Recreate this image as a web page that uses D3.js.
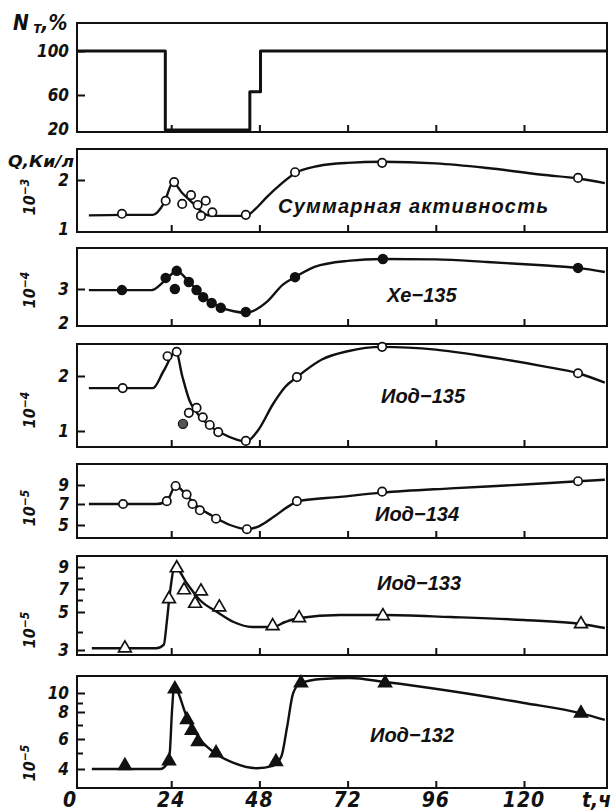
<!DOCTYPE html>
<html>
<head>
<meta charset="utf-8">
<script src="https://cdn.jsdelivr.net/npm/d3@7"></script>
<style>
  body { margin: 0; background: #fff; }
  svg text { font-family: "Liberation Sans Narrow", "DejaVu Sans Condensed", sans-serif; font-style: italic; font-weight: bold; fill: #111; }
  svg .title { font-family: "Liberation Sans", "DejaVu Sans", sans-serif; }
</style>
</head>
<body>
<svg id="vis-svg" width="612" height="812"></svg>
<script>
// time axis, hours
const hourTicks = [24, 48, 72, 96, 120]
const hourLabels = [0, 24, 48, 72, 96, 120]

// reactor power N_T, %
const powerT = [-1.5, 22.4, 45.4, 48.3, 142.5]
const powerN = [100, 20, 63, 100, 100]

// total activity, 10^-3 Ki/l (open circles)
const sumPtsT = [10.6, 22.5, 24.8, 27, 29.4, 31.2, 32.1, 33.4, 35.2, 44.3, 57.7, 81.4, 134.7]
const sumPtsV = [1.35, 1.60, 1.96, 1.54, 1.71, 1.52, 1.31, 1.60, 1.38, 1.33, 2.15, 2.33, 2.04]
const sumFitT = [1.6, 10.6, 19, 22, 24.5, 27, 30, 33, 35, 44.3, 47, 50, 54, 57.7, 64, 72, 81.4, 96, 110, 125, 134.7, 142]
const sumFitV = [1.32, 1.33, 1.33, 1.55, 1.95, 1.75, 1.55, 1.35, 1.31, 1.31, 1.45, 1.67, 1.93, 2.13, 2.27, 2.33, 2.35, 2.32, 2.23, 2.1, 2.03, 1.94]

// Xe-135, 10^-4 (filled circles)
const xePtsT = [10.6, 22.5, 25.5, 25, 28.8, 30.9, 32.7, 35, 37.5, 44.3, 57.7, 81.6, 134.7]
const xePtsV = [2.97, 3.30, 3.49, 3.0, 3.19, 2.97, 2.78, 2.62, 2.49, 2.38, 3.32, 3.81, 3.57]
const xeFitT = [1.6, 18.7, 22, 25.5, 29, 33, 37, 41, 44.3, 47, 50, 54.4, 57.7, 63, 72, 81.6, 96, 110, 125, 134.7, 142]
const xeFitV = [2.97, 2.97, 3.2, 3.48, 3.18, 2.78, 2.52, 2.4, 2.36, 2.44, 2.65, 3.12, 3.32, 3.6, 3.76, 3.81, 3.8, 3.73, 3.64, 3.57, 3.46]

// I-135, 10^-4 (open circles, one grey dot)
const i135PtsT = [10.8, 23, 25.5, 28.8, 30.9, 32.6, 34.5, 36.8, 44.3, 58.2, 81.4, 134.7]
const i135PtsV = [1.78, 2.36, 2.44, 1.33, 1.42, 1.25, 1.11, 0.98, 0.82, 1.98, 2.53, 2.05]
const i135OddT = [27.2]
const i135OddV = [1.13]
const i135FitT = [1.6, 19, 22, 25.3, 27, 29, 31, 34, 38, 42, 44.5, 47.5, 51.8, 55, 58.2, 65, 72, 81.4, 96, 110, 125, 134.7, 142]
const i135FitV = [1.78, 1.78, 2.1, 2.45, 2.0, 1.55, 1.33, 1.12, 0.95, 0.84, 0.81, 1.0, 1.5, 1.8, 1.98, 2.3, 2.45, 2.53, 2.48, 2.35, 2.18, 2.05, 1.88]

// I-134, 10^-5 (open circles)
const i134PtsT = [10.9, 22.8, 25.2, 28.2, 29.8, 31.8, 36.2, 44.6, 58.2, 81.4, 134.7]
const i134PtsV = [7.0, 7.3, 8.9, 8.0, 7.0, 6.4, 5.6, 4.6, 7.3, 8.3, 9.4]
const i134FitT = [1.6, 20, 22.8, 25.2, 28, 31, 35, 40, 44.6, 48, 52, 56, 58.5, 70, 81.4, 100, 120, 134.7, 142]
const i134FitV = [7, 7, 7.3, 8.9, 8.0, 6.8, 5.9, 5.0, 4.6, 4.9, 5.8, 6.8, 7.3, 7.75, 8.2, 8.65, 9.05, 9.4, 9.55]

// I-133, 10^-5 (open triangles)
const i133PtsT = [11.4, 23.4, 25.5, 27.5, 30.5, 32.1, 37.1, 51.6, 58.8, 81.6, 135.5]
const i133PtsV = [3.1, 6.1, 8.9, 6.9, 5.7, 6.8, 5.4, 4.3, 4.7, 4.8, 4.4]
const i133FitT = [2.4, 20, 22, 22.8, 23.6, 25, 28.3, 31.8, 36.5, 41, 46, 51.6, 55, 58.8, 70, 81.6, 100, 120, 135.5, 142]
const i133FitV = [3.1, 3.1, 3.3, 4.5, 6.5, 9.0, 7.5, 6.0, 5.0, 4.5, 4.25, 4.25, 4.5, 4.7, 4.85, 4.85, 4.75, 4.6, 4.4, 4.2]

// I-132, 10^-5 (filled triangles)
const i132PtsT = [11.4, 23.4, 25, 28.3, 29.6, 31.3, 36.2, 52.5, 59.3, 82.2, 135.5]
const i132PtsV = [4.2, 4.5, 10.4, 7.4, 6.6, 5.8, 5.0, 4.45, 11.0, 11.0, 7.9]
const i132FitT = [2.4, 21, 22.8, 23.6, 24.2, 24.8, 28.3, 31.8, 36.5, 40.8, 47.3, 51.7, 54, 55.5, 57.2, 59.3, 65, 72.6, 82.2, 100, 120, 135.5, 142]
const i132FitV = [4.0, 4.0, 4.3, 5, 8, 10.6, 7.6, 6.0, 4.9, 4.4, 4.05, 4.2, 4.8, 6.8, 10, 11.0, 11.4, 11.5, 11.1, 10.2, 9.0, 7.9, 7.4]

// layout
const left = 77, right = 607
const x = d3.scaleLinear().domain([0, 120]).range([83, 524])

const panels = [
  { top: 23, bottom: 132, dom: [20, 60, 100], rng: [130, 95, 51], labels: [100, 60], bottomLabel: "20", minor: [],
    curve: [powerT, powerN], step: true },
  { top: 149, bottom: 232, dom: [1, 2], rng: [232, 180], labels: [2], bottomLabel: "1", minor: [],
    curve: [sumFitT, sumFitV], pts: [sumPtsT, sumPtsV], mark: "oc", exp: "−3", expY: 197,
    title: "Суммарная активность", tx: 278, ty: 213, tw: 270 },
  { top: 248, bottom: 326, dom: [2, 3], rng: [326, 289], labels: [3], bottomLabel: "2", minor: [],
    curve: [xeFitT, xeFitV], pts: [xePtsT, xePtsV], mark: "fc", exp: "−4", expY: 290,
    title: "Xe−135", tx: 387, ty: 302 },
  { top: 344, bottom: 447, dom: [1, 2], rng: [431, 376], labels: [2, 1], minor: [],
    curve: [i135FitT, i135FitV], pts: [i135PtsT, i135PtsV], mark: "oc", exp: "−4", expY: 410,
    odd: [i135OddT, i135OddV], title: "Иод−135", tx: 381, ty: 403 },
  { top: 464, bottom: 538, dom: [5, 7, 9], rng: [525, 504, 485], labels: [9, 7, 5], minor: [],
    curve: [i134FitT, i134FitV], pts: [i134PtsT, i134PtsV], mark: "oc", exp: "−5", expY: 508,
    title: "Иод−134", tx: 375, ty: 521 },
  { top: 556, bottom: 655, dom: [3, 4, 5, 6, 7, 8, 9], rng: [650, 632, 612, 600, 589, 578, 567], labels: [9, 7, 5, 3], minor: [8, 6, 4],
    curve: [i133FitT, i133FitV], pts: [i133PtsT, i133PtsV], mark: "ot", exp: "−5", expY: 630,
    title: "Иод−133", tx: 377, ty: 590 },
  { top: 676, bottom: 788, dom: [4, 5, 6, 7, 8, 9, 10], rng: [769, 753, 739, 725, 712, 703, 693], labels: [10, 8, 6, 4], minor: [9, 7, 5],
    curve: [i132FitT, i132FitV], pts: [i132PtsT, i132PtsV], mark: "ft", exp: "−5", expY: 763,
    title: "Иод−132", tx: 370, ty: 742 }
]

const svg = d3.select("#vis-svg")
const ink = "#111"

panels.forEach(p => {
  const y = d3.scaleLinear().domain(p.dom).range(p.rng)
  const g = svg.append("g")

  // frame
  g.append("rect")
    .attr("x", left).attr("y", p.top)
    .attr("width", right - left).attr("height", p.bottom - p.top)
    .attr("fill", "none").attr("stroke", ink).attr("stroke-width", 2)

  // left ticks with labels
  const ya = g.append("g").attr("transform", `translate(${left},0)`)
    .call(d3.axisLeft(y).tickValues(p.labels).tickSize(-8).tickPadding(8).tickFormat(d3.format("d")))
  ya.select(".domain").remove()
  ya.selectAll("line").attr("stroke", ink).attr("stroke-width", 2)
  ya.selectAll("text").attr("font-size", 17).attr("font-family", null).attr("fill", ink)

  if (p.minor.length) {
    const ym = g.append("g").attr("transform", `translate(${left},0)`)
      .call(d3.axisLeft(y).tickValues(p.minor).tickSize(-6).tickFormat(""))
    ym.select(".domain").remove()
    ym.selectAll("line").attr("stroke", ink).attr("stroke-width", 2)
  }
  if (p.bottomLabel) {
    g.append("text").attr("x", 69).attr("y", p.bottom + 3)
      .attr("text-anchor", "end").attr("font-size", 17).text(p.bottomLabel)
  }

  // bottom ticks
  const xa = g.append("g").attr("transform", `translate(0,${p.bottom})`)
    .call(d3.axisBottom(x).tickValues(hourTicks).tickSize(-7).tickFormat(""))
  xa.select(".domain").remove()
  xa.selectAll("line").attr("stroke", ink).attr("stroke-width", 2)

  // curve
  const [ct, cv] = p.curve
  const line = d3.line()
    .x(d => x(ct[d])).y(d => y(cv[d]))
    .curve(p.step ? d3.curveStepAfter : d3.curveMonotoneX)
  g.append("path")
    .attr("d", line(d3.range(ct.length)))
    .attr("fill", "none").attr("stroke", ink)
    .attr("stroke-width", p.step ? 3 : 2.4).attr("stroke-linejoin", "round")

  // points
  if (p.pts) {
    const [pt, pv] = p.pts
    const idx = d3.range(pt.length)
    if (p.mark === "oc" || p.mark === "fc") {
      g.selectAll("circle.pt").data(idx).enter().append("circle")
        .attr("cx", i => x(pt[i])).attr("cy", i => y(pv[i]))
        .attr("r", p.mark === "oc" ? 4.2 : 4.4)
        .attr("fill", p.mark === "oc" ? "#fff" : ink)
        .attr("stroke", ink).attr("stroke-width", 1.7)
    } else {
      const tri = d3.symbol(d3.symbolTriangle, 70)
      g.selectAll("path.pt").data(idx).enter().append("path")
        .attr("d", tri)
        .attr("transform", i => `translate(${x(pt[i])},${y(pv[i])})`)
        .attr("fill", p.mark === "ot" ? "#fff" : ink)
        .attr("stroke", ink).attr("stroke-width", 1.7)
    }
  }
  if (p.odd) {
    const [ot, ov] = p.odd
    g.selectAll("circle.odd").data(d3.range(ot.length)).enter().append("circle")
      .attr("cx", i => x(ot[i])).attr("cy", i => y(ov[i]))
      .attr("r", 4.6).attr("fill", "#555").attr("stroke", ink).attr("stroke-width", 1.2)
  }

  // scale exponent, rotated
  if (p.exp) {
    const t = g.append("text")
      .attr("transform", `translate(35,${p.expY}) rotate(-90)`)
      .attr("text-anchor", "middle").attr("font-size", 16)
    t.append("tspan").text("10")
    t.append("tspan").attr("dy", -6).attr("font-size", 12).text(p.exp)
  }

  // series title
  if (p.title) {
    const tt = g.append("text").attr("class", "title")
      .attr("x", p.tx).attr("y", p.ty).attr("font-size", 20).text(p.title)
    if (p.tw) tt.attr("textLength", p.tw).attr("lengthAdjust", "spacing")
  }
})

// axis titles
const nt = svg.append("text").attr("x", 13).attr("y", 30).attr("font-size", 21)
nt.append("tspan").text("N")
nt.append("tspan").attr("dy", 3).attr("font-size", 15).text(" т")
nt.append("tspan").attr("dy", -3).text(",%")

svg.append("text").attr("x", 8).attr("y", 167).attr("font-size", 16)
  .attr("textLength", 66).attr("lengthAdjust", "spacingAndGlyphs").text("Q,Ки/л")

// hour labels under the last panel
svg.selectAll("text.hour").data(hourLabels).enter().append("text")
  .attr("x", d => d === 0 ? 70 : x(d)).attr("y", 807)
  .attr("text-anchor", "middle").attr("font-size", 21).attr("letter-spacing", 1)
  .text(d => d)

svg.append("text").attr("x", 582).attr("y", 807).attr("font-size", 21).text("t,ч")
</script>
</body>
</html>
